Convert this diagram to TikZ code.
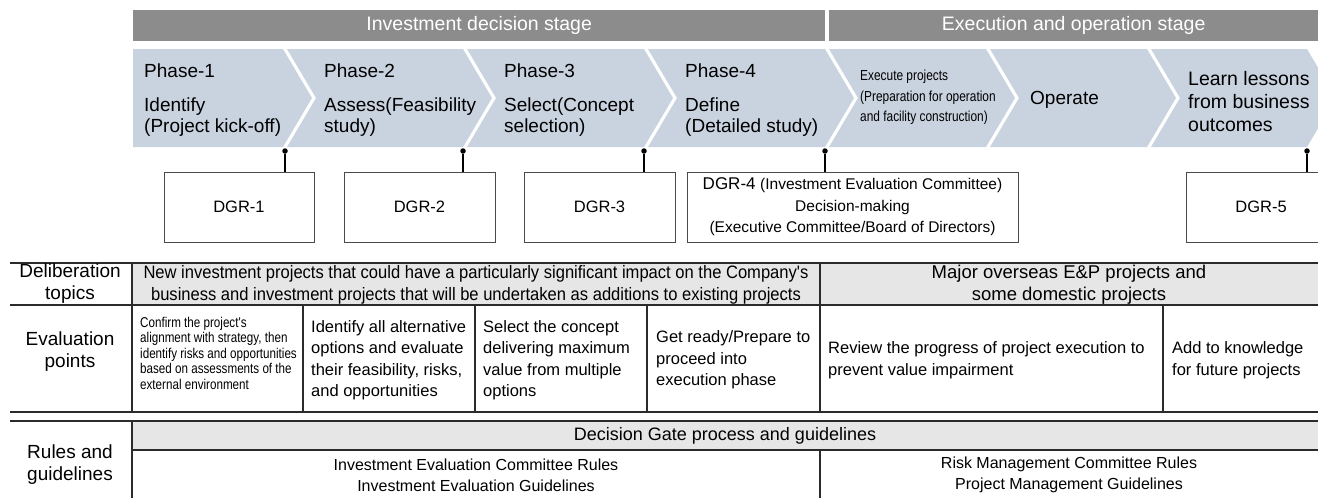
\documentclass[tikz,border=0pt]{standalone}
\usepackage{fontspec}
\setmainfont{Liberation Sans}
\newfontfamily\condfont[FakeStretch=0.82]{Liberation Sans}
\newfontfamily\semifont[FakeStretch=0.92]{Liberation Sans}
\usetikzlibrary{positioning}

\definecolor{stagegray}{HTML}{8C8C8C}
\definecolor{chevblue}{HTML}{C9D3DF}
\definecolor{tablegray}{HTML}{E6E6E6}
\definecolor{rulegray}{HTML}{2B2B2B}
\definecolor{boxgray}{HTML}{4A4A4A}

\tikzset{
	stagebar/.style={fill=stagegray, text=white, minimum height=31, inner sep=0pt,
		font=\fontsize{19.5}{22}\selectfont},
	chevron/.style={fill=chevblue},
	chevtext/.style={anchor=west, align=left, inner sep=0pt,
		font=\fontsize{19}{21}\selectfont},
	gatedot/.style={circle, fill=black, inner sep=0pt, minimum size=5.5},
	gateline/.style={line width=1.1pt},
	dgrbox/.style={draw=boxgray, line width=1pt, fill=white, minimum height=70,
		inner sep=0pt, align=center, font=\fontsize{16.5}{21.5}\selectfont},
	rowlabel/.style={align=center, inner sep=0pt, font=\fontsize{19}{22}\selectfont},
	celltext/.style={anchor=west, align=left, inner sep=0pt,
		font=\fontsize{16.5}{21.5}\selectfont},
	tabline/.style={draw=rulegray, line width=1.1pt},
}

\begin{document}
\begin{tikzpicture}[x=1pt, y=-1pt]
	\useasboundingbox (0,0) rectangle (1318,498);
	\clip (0,0) rectangle (1318,498);
	
	% stages
	\node[stagebar, minimum width=692, anchor=north west] (invstage) at (133,10) {Investment decision stage};
	\node[stagebar, minimum width=489, anchor=north west] (exestage) at (829,10) {Execution and operation stage};
	
	% phase arrows
	\fill[chevron] (133,49) -- (283,49) -- (312,98) -- (283,147) -- (133,147) -- cycle;
	\foreach \l/\r in {283/463, 463/644, 644/825, 825/986, 986/1147, 1147/1307}
		\fill[chevron] (\l+4,49) -- (\r,49) -- (\r+29,98) -- (\r,147) -- (\l+4,147) -- (\l+33,98) -- cycle;
	
	\node[chevtext] (ph1) at (144,71) {Phase-1};
	\node[chevtext] (ph1txt) at (144,117) {Identify\\(Project kick-off)};
	\node[chevtext] (ph2) at (324,71) {Phase-2};
	\node[chevtext] (ph2txt) at (324,117) {Assess(Feasibility\\study)};
	\node[chevtext] (ph3) at (504,71) {Phase-3};
	\node[chevtext] (ph3txt) at (504,117) {Select(Concept\\selection)};
	\node[chevtext] (ph4) at (685,71) {Phase-4};
	\node[chevtext] (ph4txt) at (685,117) {Define\\(Detailed study)};
	\node[chevtext, font=\condfont\fontsize{14.5}{20.5}\selectfont] (execute) at (860,97.5)
		{Execute projects\\(Preparation for operation\\and facility construction)};
	\node[chevtext] (operate) at (1030,100) {Operate};
	\node[chevtext, font=\fontsize{19.5}{23}\selectfont] (learn) at (1188,101.5) {Learn lessons\\from business\\outcomes};
	
	% decision gates
	\foreach \x [count=\i] in {285,463,644,825,1307}
		\node[gatedot] (gate\i) at (\x,151) {};
	
	\node[dgrbox, minimum width=150] (dgr1) at (239,207) {DGR-1};
	\node[dgrbox, minimum width=151] (dgr2) at (419.5,207) {DGR-2};
	\node[dgrbox, minimum width=151] (dgr3) at (599.5,207) {DGR-3};
	\node[dgrbox, minimum width=331] (dgr4) at (852.5,207)
		{{\fontsize{17}{21.5}\selectfont DGR-4} {\fontsize{15.5}{21.5}\selectfont(Investment Evaluation Committee)}\\
		{\fontsize{15.5}{21.5}\selectfont Decision-making}\\
		{\fontsize{15.5}{21.5}\selectfont(Executive Committee/Board of Directors)}};
	\node[dgrbox, minimum width=150] (dgr5) at (1261,207) {DGR-5};
	
	\foreach \i in {1,...,5}
		\draw[gateline] (gate\i) -- (gate\i |- dgr\i.north);
	
	% table
	\fill[tablegray] (132,263) rectangle (1318,305);
	\fill[tablegray] (132,421) rectangle (1318,450);
	\draw[tabline] (10,263) -- (1318,263) (10,305) -- (1318,305)
		(10,412) -- (1318,412) (10,421) -- (1318,421) (132,450) -- (1318,450);
	\draw[tabline] (132,263) -- (132,412) (132,421) -- (132,498)
		(820,263) -- (820,412) (820,450) -- (820,498);
	\foreach \x in {303,475,647,1163}
		\draw[tabline] (\x,305) -- (\x,412);
	
	\node[rowlabel] (lbltopics) at (70,284) {Deliberation\\topics};
	\node[rowlabel] (lblpoints) at (70,352) {Evaluation\\points};
	\node[rowlabel] (lblrules) at (70,465) {Rules and\\guidelines};
	
	\node[rowlabel, font=\semifont\fontsize{18}{22}\selectfont] (topicsinv) at (476,285)
		{New investment projects that could have a particularly significant impact on the Company's\\
		business and investment projects that will be undertaken as additions to existing projects};
	\node[rowlabel, font=\fontsize{18.5}{22}\selectfont] (topicsexe) at (1069,285)
		{Major overseas E\&P projects and\\some domestic projects};
	
	\node[celltext, font=\condfont\fontsize{14.2}{15.5}\selectfont] (pt1) at (140,353)
		{Confirm the project's\\alignment with strategy, then\\identify risks and opportunities\\based on assessments of the\\external environment};
	\node[celltext] (pt2) at (311,360) {Identify all alternative\\options and evaluate\\their feasibility, risks,\\and opportunities};
	\node[celltext] (pt3) at (483,360) {Select the concept\\delivering maximum\\value from multiple\\options};
	\node[celltext] (pt4) at (656,360) {Get ready/Prepare to\\proceed into\\execution phase};
	\node[celltext] (pt5) at (828,360) {Review the progress of project execution to\\prevent value impairment};
	\node[celltext] (pt6) at (1172,360) {Add to knowledge\\for future projects};
	
	\node[rowlabel, font=\fontsize{18}{22}\selectfont] (gateproc) at (725,435.5) {Decision Gate process and guidelines};
	\node[rowlabel, font=\fontsize{16}{21}\selectfont] (rulesinv) at (476,475) {Investment Evaluation Committee Rules\\Investment Evaluation Guidelines};
	\node[rowlabel, font=\fontsize{16}{21}\selectfont] (rulesexe) at (1069,475) {Risk Management Committee Rules\\Project Management Guidelines};
\end{tikzpicture}
\end{document}
